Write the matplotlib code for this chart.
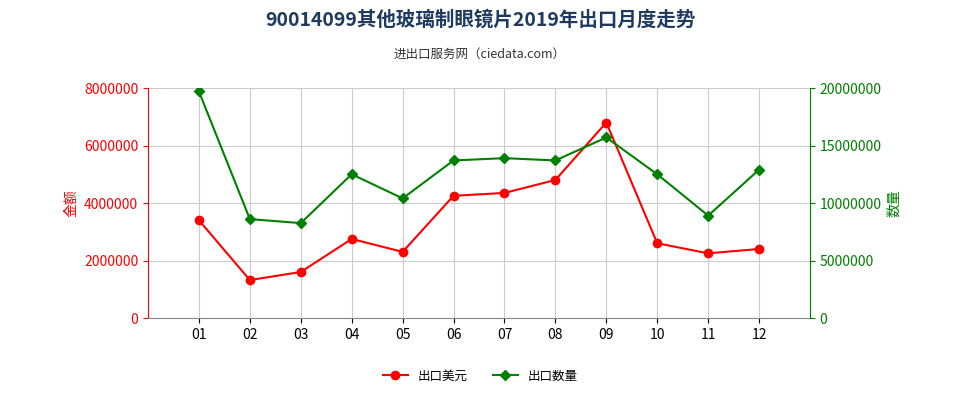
import matplotlib
matplotlib.use("Agg")
import matplotlib.pyplot as plt
from matplotlib.ticker import FuncFormatter

plt.rcParams["font.family"] = "sans-serif"
plt.rcParams["font.sans-serif"] = ["Noto Sans CJK SC", "Noto Sans CJK JP", "Noto Sans CJK TC",
                                   "Noto Sans CJK KR", "DejaVu Sans"]

months = ["01", "02", "03", "04", "05", "06", "07", "08", "09", "10", "11", "12"]
usd = [3400000, 1320000, 1600000, 2750000, 2300000, 4250000, 4350000, 4800000, 6800000, 2600000, 2250000, 2400000]
qty = [19700000, 8600000, 8250000, 12500000, 10400000, 13700000, 13900000, 13700000, 15700000, 12500000, 8900000, 12900000]

fig = plt.figure(figsize=(9.6, 4), dpi=100)
ax = fig.add_axes([148 / 960, 82 / 400, 662 / 960, 230 / 400])
ax2 = ax.twinx()
x = list(range(1, len(months) + 1))

ax.plot(x, usd, color="#ff0000", marker="o", markersize=6, linewidth=1.5, label="出口美元")
ax2.plot(x, qty, color="#008000", marker="D", markersize=5, linewidth=1.5, label="出口数量")

ax.set_xlim(0, 13)
ax.set_ylim(0, 8000000)
ax2.set_ylim(0, 20000000)
ax.set_xticks(x)
ax.set_xticklabels(months)
ax.set_yticks(range(0, 8000001, 2000000))
ax2.set_yticks(range(0, 20000001, 5000000))
plain = FuncFormatter(lambda v, p: "%d" % v)
ax.yaxis.set_major_formatter(plain)
ax2.yaxis.set_major_formatter(plain)
ax.grid(True, axis="both", color="#cccccc", linewidth=0.8)
ax.set_axisbelow(True)

for s in ["top", "right"]:
    ax.spines[s].set_visible(False)
    ax2.spines[s].set_visible(False)
ax2.spines["left"].set_visible(False)
ax.spines["left"].set_color("#ff0000")
ax2.spines["right"].set_visible(True)
ax2.spines["right"].set_color("#008000")
ax.spines["bottom"].set_color("#888888")
ax2.spines["bottom"].set_visible(False)
ax.tick_params(axis="y", colors="#ff0000", labelsize=10)
ax2.tick_params(axis="y", colors="#008000", labelsize=10)
ax.tick_params(axis="x", labelsize=10)

ax.set_ylabel("金额", color="#ff0000", fontsize=10)
ax2.set_ylabel("数量", color="#008000", fontsize=10)

fig.text(0.5, 0.935, "90014099其他玻璃制眼镜片2019年出口月度走势", ha="center", fontsize=14,
         fontweight="bold", color="#1f3a5f")
fig.text(0.5, 0.855, "进出口服务网（ciedata.com）", ha="center", fontsize=9, color="#333333")

h1, l1 = ax.get_legend_handles_labels()
h2, l2 = ax2.get_legend_handles_labels()
fig.legend(h1 + h2, l1 + l2, loc="center", bbox_to_anchor=(0.5, 0.06), ncol=2, frameon=False, fontsize=9)

fig.savefig("out.png", dpi=100)
